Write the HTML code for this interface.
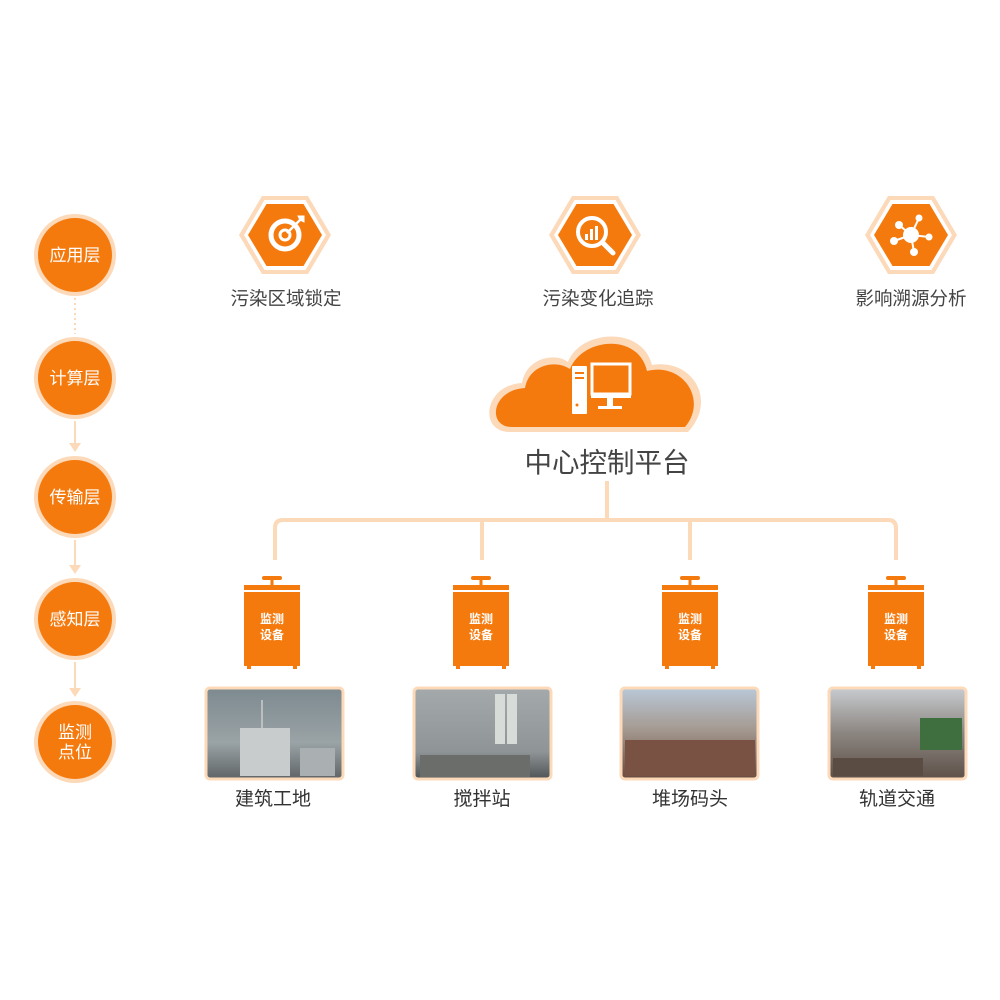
<!DOCTYPE html>
<html><head><meta charset="utf-8"><style>
body{margin:0;background:#fff}
svg{display:block}
text{font-family:"Liberation Sans","Noto Sans CJK SC",sans-serif}
</style></head><body>
<svg width="1000" height="1000" viewBox="0 0 1000 1000" xmlns="http://www.w3.org/2000/svg">
<defs>
<g id="hex"><polygon points="-46,0 -23,-39 23,-39 46,0 23,39 -23,39" fill="#fcd9b8"/><polygon points="-41,0 -20.5,-35 20.5,-35 41,0 20.5,35 -20.5,35" fill="#fff"/><polygon points="-37,0 -18.5,-31 18.5,-31 37,0 18.5,31 -18.5,31" fill="#f57a0e"/></g>
<g id="dev"><rect x="-10" y="-12" width="20" height="4" rx="2" fill="#f57a0e"/><rect x="-1.5" y="-9" width="3" height="6" fill="#f57a0e"/><rect x="-28" y="-3" width="56" height="5" fill="#f57a0e"/><rect x="-28" y="4" width="56" height="74" fill="#f57a0e"/><rect x="-25" y="78" width="4" height="3" fill="#f57a0e"/><rect x="21" y="78" width="4" height="3" fill="#f57a0e"/></g>
<linearGradient id="p1" x1="0" y1="0" x2="0" y2="1"><stop offset="0" stop-color="#7d8a90"/><stop offset="0.6" stop-color="#9aa3a6"/><stop offset="1" stop-color="#5f6466"/></linearGradient>
<linearGradient id="p2" x1="0" y1="0" x2="0" y2="1"><stop offset="0" stop-color="#a4aaac"/><stop offset="0.7" stop-color="#8f9496"/><stop offset="1" stop-color="#4f5456"/></linearGradient>
<linearGradient id="p3" x1="0" y1="0" x2="0" y2="1"><stop offset="0" stop-color="#b9c8d8"/><stop offset="0.45" stop-color="#a59a92"/><stop offset="1" stop-color="#6a4a3c"/></linearGradient>
<linearGradient id="p4" x1="0" y1="0" x2="0" y2="1"><stop offset="0" stop-color="#c8ccd0"/><stop offset="0.5" stop-color="#8b8580"/><stop offset="1" stop-color="#5d5048"/></linearGradient>
</defs>

<g fill="none" stroke="#fcd9b8" stroke-width="2">
<line x1="75" y1="298" x2="75" y2="334" stroke-dasharray="2,3"/>
<line x1="75" y1="421" x2="75" y2="445"/>
<line x1="75" y1="540" x2="75" y2="567"/>
<line x1="75" y1="662" x2="75" y2="690"/>
</g>
<g fill="#fcd9b8">
<polygon points="69,443 81,443 75,452"/>
<polygon points="69,565 81,565 75,574"/>
<polygon points="69,688 81,688 75,697"/>
</g>
<g>
<circle cx="75" cy="255" r="41" fill="#fcd9b8"/><circle cx="75" cy="255" r="37" fill="#f57a0e"/>
<circle cx="75" cy="378" r="41" fill="#fcd9b8"/><circle cx="75" cy="378" r="37" fill="#f57a0e"/>
<circle cx="75" cy="497" r="41" fill="#fcd9b8"/><circle cx="75" cy="497" r="37" fill="#f57a0e"/>
<circle cx="75" cy="619" r="41" fill="#fcd9b8"/><circle cx="75" cy="619" r="37" fill="#f57a0e"/>
<circle cx="75" cy="742" r="41" fill="#fcd9b8"/><circle cx="75" cy="742" r="37" fill="#f57a0e"/>
</g>
<g fill="#fff" font-size="17" text-anchor="middle">
<text x="75" y="261">应用层</text>
<text x="75" y="384">计算层</text>
<text x="75" y="503">传输层</text>
<text x="75" y="625">感知层</text>
<text x="75" y="738">监测</text>
<text x="75" y="758">点位</text>
</g>

<use href="#hex" x="285" y="235"/>
<use href="#hex" x="595" y="235"/>
<use href="#hex" x="911" y="235"/>
<g transform="translate(285,235)" fill="none" stroke="#fff">
<circle r="14" stroke-width="5"/><circle r="5" stroke-width="3"/>
<line x1="2" y1="-2" x2="15" y2="-15" stroke-width="2.5"/>
<polygon points="13,-19 19,-19 19,-13 15,-15" fill="#fff" stroke-width="1"/>
</g>
<g transform="translate(595,235)" fill="none" stroke="#fff">
<circle cx="-3" cy="-3" r="14" stroke-width="4"/>
<line x1="8" y1="8" x2="18" y2="18" stroke-width="5" stroke-linecap="round"/>
<rect x="-10" y="-1" width="3" height="6" fill="#fff" stroke="none"/>
<rect x="-5" y="-6" width="3" height="11" fill="#fff" stroke="none"/>
<rect x="0" y="-9" width="3" height="14" fill="#fff" stroke="none"/>
</g>
<g transform="translate(911,235)" fill="#fff" stroke="#fff" stroke-width="2">
<line x1="0" y1="0" x2="-12" y2="-10"/><line x1="0" y1="0" x2="8" y2="-17"/><line x1="0" y1="0" x2="18" y2="2"/><line x1="0" y1="0" x2="-17" y2="6"/><line x1="0" y1="0" x2="3" y2="17"/>
<circle r="8" stroke="none"/><circle cx="-12" cy="-10" r="4" stroke="none"/><circle cx="8" cy="-17" r="3.5" stroke="none"/><circle cx="18" cy="2" r="3.5" stroke="none"/><circle cx="-17" cy="6" r="4" stroke="none"/><circle cx="3" cy="17" r="4" stroke="none"/>
</g>
<g fill="#444" font-size="18.5" text-anchor="middle">
<text x="286" y="305">污染区域锁定</text>
<text x="598" y="305">污染变化追踪</text>
<text x="911" y="305">影响溯源分析</text>
</g>

<g>
<path d="M510,432 C478,432 484,385 522,383 C526,358 555,352 568,362 C580,330 642,325 652,365 C692,358 718,400 688,432 Z" fill="#fcd9b8"/>
<path d="M512,427 C487,427 491,390 525,388 C529,365 555,359 570,369 C582,338 638,332 647,371 C683,362 708,400 685,427 Z" fill="#f57a0e"/>
<rect x="572" y="366" width="15" height="48" rx="1" fill="#fff"/>
<rect x="575" y="372" width="9" height="2" fill="#f57a0e"/><rect x="575" y="377" width="9" height="2" fill="#f57a0e"/>
<circle cx="577" cy="405" r="1.5" fill="#f57a0e"/>
<rect x="592" y="364" width="38" height="30" fill="none" stroke="#fff" stroke-width="3"/>
<rect x="591" y="393" width="40" height="5" fill="#fff"/>
<rect x="607" y="398" width="6" height="9" fill="#fff"/>
<rect x="598" y="406" width="24" height="3" fill="#fff"/>
</g>
<text x="607" y="472" fill="#444" font-size="27.5" text-anchor="middle">中心控制平台</text>

<g fill="none" stroke="#fcd9b8" stroke-width="4" stroke-linejoin="round">
<path d="M607,481 V520"/>
<path d="M275,560 V528 Q275,520 283,520 H888 Q896,520 896,528 V560"/>
<path d="M482,520 V560"/><path d="M690,520 V560"/>
</g>

<use href="#dev" x="272" y="588"/>
<use href="#dev" x="481" y="588"/>
<use href="#dev" x="690" y="588"/>
<use href="#dev" x="896" y="588"/>
<g fill="#fff" font-size="12" font-weight="bold" text-anchor="middle">
<text x="272" y="623">监测</text><text x="272" y="639">设备</text>
<text x="481" y="623">监测</text><text x="481" y="639">设备</text>
<text x="690" y="623">监测</text><text x="690" y="639">设备</text>
<text x="896" y="623">监测</text><text x="896" y="639">设备</text>
</g>

<g stroke="#fcd9b8" stroke-width="3">
<rect x="206" y="688" width="137" height="91" rx="4" fill="url(#p1)"/>
<rect x="414" y="688" width="137" height="91" rx="4" fill="url(#p2)"/>
<rect x="621" y="688" width="137" height="91" rx="4" fill="url(#p3)"/>
<rect x="829" y="688" width="137" height="91" rx="4" fill="url(#p4)"/>
</g>
<rect x="240" y="728" width="50" height="48" fill="#c9cccd"/>
<rect x="300" y="748" width="35" height="28" fill="#aab0b2"/>
<line x1="262" y1="728" x2="262" y2="700" stroke="#ccc" stroke-width="1.5"/>
<rect x="495" y="694" width="10" height="50" fill="#d8dcd8"/><rect x="507" y="694" width="10" height="50" fill="#d8dcd8"/>
<rect x="420" y="755" width="110" height="22" fill="#6a6d6a"/>
<rect x="625" y="740" width="130" height="36" fill="#7a5244"/>
<rect x="920" y="718" width="42" height="32" fill="#3f6e3f"/>
<rect x="833" y="758" width="90" height="18" fill="#5a4c42"/>

<g fill="#333" font-size="19" text-anchor="middle">
<text x="273" y="805">建筑工地</text>
<text x="482" y="805">搅拌站</text>
<text x="690" y="805">堆场码头</text>
<text x="897" y="805">轨道交通</text>
</g>
</svg>
</body></html>
